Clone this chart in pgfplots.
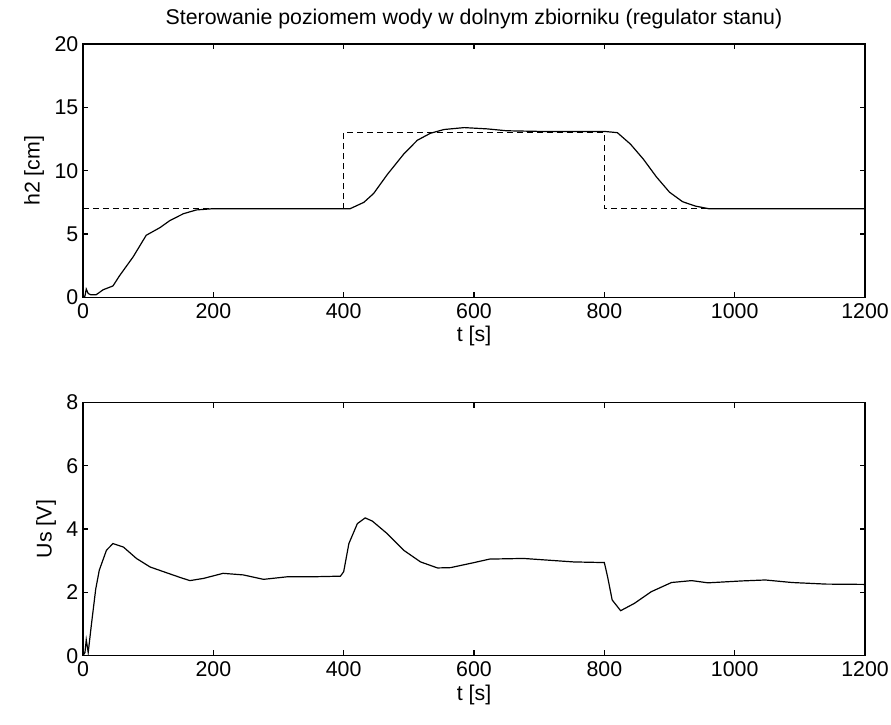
\documentclass[border=0pt]{standalone}
\usepackage{fontspec}
\setmainfont{Liberation Sans}
\usepackage{pgfplots}
\pgfplotsset{compat=1.18}
\usetikzlibrary{calc}

\begin{document}
\begin{tikzpicture}
\pgfplotsset{
  matlab/.style={
    scale only axis,
    width=586.5pt, height=190pt,
    xmin=0, xmax=1200,
    xtick={0,200,...,1200},
    tick align=inside,
    major tick length=4pt,
    axis line style={line width=0.9pt},
    every tick/.style={black, line width=0.9pt},
    tick label style={font=\fontsize{16}{18}\selectfont},
    label style={font=\fontsize{16}{18}\selectfont},
    /pgf/number format/assume math mode=true,
    /pgf/number format/1000 sep={},
    xticklabel style={yshift=-1pt},
    xlabel={t [s]},
    xlabel style={yshift=1pt},
    ylabel style={yshift=1pt},
  }
}
\begin{axis}[matlab, name=top,
  ymin=0, ymax=20, ytick={0,5,...,20},
  ylabel={h2 [cm]},
  title={Sterowanie poziomem wody w dolnym zbiorniku (regulator stanu)},
  title style={font=\fontsize{16}{18}\selectfont, yshift=2pt}]
% zadana
\addplot[black, line width=0.8pt, dash pattern=on 4.5pt off 3pt] coordinates {
 (0,7) (400,7) (400,13) (800,13) (800,7) (1200,7)
};
% h2
\addplot[black, line width=0.9pt] coordinates {
 (0,0) (3,0.1) (5,0.65) (8,0.3) (12,0.2) (20,0.2) (31,0.6) (46,0.9)
 (56,1.7) (77,3.2) (97,4.9) (118,5.5) (133,6.05) (154,6.6) (174,6.9)
 (200,7.0) (300,7.0) (410,7.0) (431,7.5) (446,8.2) (467,9.7) (492,11.3)
 (513,12.4) (533,12.95) (554,13.25) (585,13.4) (620,13.3) (650,13.15)
 (700,13.1) (800,13.1) (820,13.0) (840,12.1) (860,10.9) (880,9.5)
 (900,8.3) (920,7.55) (940,7.2) (960,7.0) (1200,7.0)
};
\end{axis}
\begin{axis}[matlab, name=bot,
  at={($(top.south west)+(0,-78.75pt)$)}, anchor=north west,
  ymin=0, ymax=8, ytick={0,2,...,8},
  ylabel={Us [V]}]
\addplot[black, line width=0.9pt] coordinates {
 (0,0) (3,0.1) (5,0.5) (8,0.1) (13,1.0) (19.5,2.1) (25,2.7) (36,3.33)
 (46,3.54) (62,3.43) (82,3.07) (103,2.8) (128,2.62) (149,2.47) (164,2.37)
 (185,2.44) (215,2.6) (246,2.55) (277,2.41) (313,2.49) (349,2.49)
 (395,2.51) (400,2.65) (408,3.54) (421,4.17) (433,4.35) (444,4.25)
 (467,3.85) (492,3.33) (518,2.96) (544,2.77) (564,2.78) (598,2.93)
 (624,3.05) (676,3.07) (753,2.96) (800,2.94) (805,2.49) (812,1.76)
 (825,1.42) (846,1.65) (872,2.02) (903,2.31) (934,2.37) (959,2.3)
 (1011,2.36) (1047,2.39) (1088,2.31) (1140,2.26) (1200,2.25)
};
\end{axis}
\pgfresetboundingbox
\path[use as bounding box] ($(top.north west)+(-62.25pt,33pt)$) rectangle ($(bot.south east)+(19.5pt,-51.75pt)$);
\end{tikzpicture}
\end{document}
